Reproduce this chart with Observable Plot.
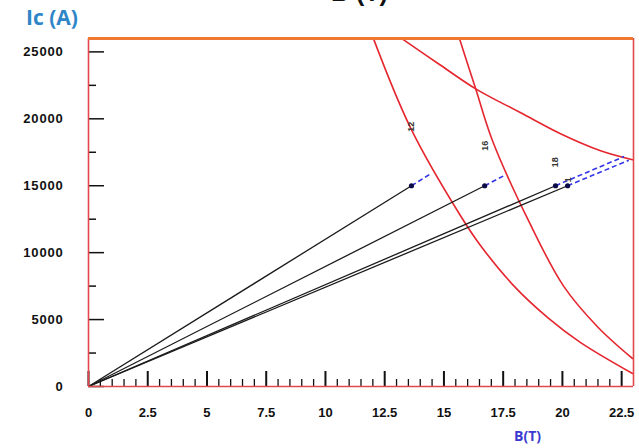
<!DOCTYPE html>
<html>
<head>
<meta charset="utf-8">
<script src="https://cdn.jsdelivr.net/npm/d3@7"></script>
<script src="https://cdn.jsdelivr.net/npm/@observablehq/plot@0.6"></script>
<style>
  html, body { margin: 0; padding: 0; background: #fff; }
  #wrap { position: relative; width: 639px; height: 448px; overflow: hidden; font-family: "Liberation Sans", Arial, sans-serif; }
  #wrap svg { position: absolute; left: 0; top: 0; }
  .ttl { position: absolute; font-weight: bold; white-space: nowrap; }
  #ylab { left: 26px; top: 3px; font-size: 21px; color: #2E86C8; font-family: "Open Sans", "Liberation Sans", sans-serif; }
  #top { left: 331px; top: -22px; font-size: 25px; color: #111; }
  #xlab { left: 514px; top: 426px; font-size: 14px; color: #3a3ad0; font-family: "Open Sans", "Liberation Sans", sans-serif; }
  g[aria-label="y-axis tick label"] text { letter-spacing: 0.8px; }
</style>
</head>
<body>
<div id="wrap">
  <div class="ttl" id="top">B (T)</div>
  <div class="ttl" id="ylab">Ic (A)</div>
  <div class="ttl" id="xlab">B(T)</div>
</div>
<script>
// ---- data ----
const xDomain = [0, 23];
const yDomain = [0, 26000];
const xMajor = [0, 2.5, 5, 7.5, 10, 12.5, 15, 17.5, 20, 22.5];
const xMinor = d3.range(0.5, 23, 0.5).filter(v => !xMajor.includes(v));
const yMajor = [0, 5000, 10000, 15000, 20000, 25000];
const yMinor = [2500, 7500, 12500, 17500, 22500];

// load lines (from origin to operating point) and their labels
const lineNames = ["12", "16", "18", "1"];
const pointB = [13.63, 16.72, 19.71, 20.22];
const pointIc = [15000, 15000, 15000, 15000];
const dashEndB = [14.45, 17.5, 22.6, 22.8];
const dashEndIc = [15900, 15720, 17180, 16900];
const labelIc = [19400, 17990, 16750, 15450];

// red critical-current curves
const curveA_B = [12.03, 13.59, 15.70, 16.55, 17.94, 19.38, 20.77, 22.96];
const curveA_Ic = [25970, 19330, 12760, 10520, 7540, 5150, 3280, 970];
const curveB_B = [15.66, 16.34, 17.05, 18.57, 20.05, 21.49, 22.96];
const curveB_Ic = [25970, 22240, 18360, 12390, 7500, 4450, 2090];
const curveC_B = [13.24, 14.86, 16.34, 18.24, 19.92, 21.61, 22.96];
const curveC_Ic = [25970, 24000, 22240, 20450, 18880, 17610, 16940];

const toPts = (xs, ys, id) => xs.map((x, i) => ({B: x, Ic: ys[i], id}));
const curves = [
  ...toPts(curveA_B, curveA_Ic, "A"),
  ...toPts(curveB_B, curveB_Ic, "B"),
  ...toPts(curveC_B, curveC_Ic, "C")
];
const idx = d3.range(pointB.length);

const red = "#e5262f";
const frameRed = "#e2474e";

const chart = Plot.plot({
  width: 639,
  height: 448,
  marginLeft: 88,
  marginRight: 6,
  marginTop: 38,
  marginBottom: 62,
  x: {domain: xDomain, axis: null},
  y: {domain: yDomain, axis: null},
  style: {fontFamily: "'Liberation Sans', Arial, sans-serif", background: "white", overflow: "visible"},
  marks: [
    // inward ticks
    Plot.tickX(xMinor, {x: d => d, insetTop: 341, stroke: "#111", strokeWidth: 1.3}),
    Plot.tickX(xMajor, {x: d => d, insetTop: 333, stroke: "#111", strokeWidth: 2}),
    Plot.tickY(yMinor, {y: d => d, insetRight: 537, stroke: "#111", strokeWidth: 1.5}),
    Plot.tickY(yMajor, {y: d => d, insetRight: 529, stroke: "#111", strokeWidth: 1.5}),
    // tick labels
    Plot.axisX({ticks: xMajor, tickFormat: d => String(d), tickSize: 0, tickPadding: 21, fontSize: 13, fontWeight: "bold", fill: "#111", label: null}),
    Plot.axisY({ticks: yMajor, tickFormat: d => String(d), tickSize: 0, tickPadding: 25, fontSize: 13, fontWeight: "bold", fill: "#111", label: null}),
    // red curves
    Plot.line(curves, {x: "B", y: "Ic", z: "id", curve: "catmull-rom", stroke: red, strokeWidth: 1.6, clip: true}),
    // black load lines
    Plot.link(idx, {x1: () => 0, y1: () => 0, x2: i => pointB[i], y2: i => pointIc[i], stroke: "#1a1a1a", strokeWidth: 1.3}),
    // blue dashed extensions
    Plot.link(idx, {x1: i => pointB[i], y1: i => pointIc[i], x2: i => dashEndB[i], y2: i => dashEndIc[i], stroke: "#3535e8", strokeWidth: 1.6, strokeDasharray: "5,3"}),
    Plot.dot(idx, {x: i => pointB[i], y: i => pointIc[i], r: 2.6, fill: "#0b0b45", stroke: "none"}),
    // curve labels
    Plot.text(idx, {x: i => pointB[i], y: i => labelIc[i], text: i => lineNames[i], rotate: -90, fontSize: 9, fill: "#333", fontWeight: "bold"}),
    // frame
    Plot.ruleX([xDomain[0]], {stroke: frameRed, strokeWidth: 1.6}),
    Plot.ruleX([xDomain[1]], {stroke: frameRed, strokeWidth: 1.6}),
    Plot.ruleY([yDomain[0]], {stroke: frameRed, strokeWidth: 1.6}),
    Plot.ruleY([yDomain[1]], {stroke: "#f07a32", strokeWidth: 3})
  ]
});
document.getElementById("wrap").prepend(chart);
</script>
</body>
</html>
